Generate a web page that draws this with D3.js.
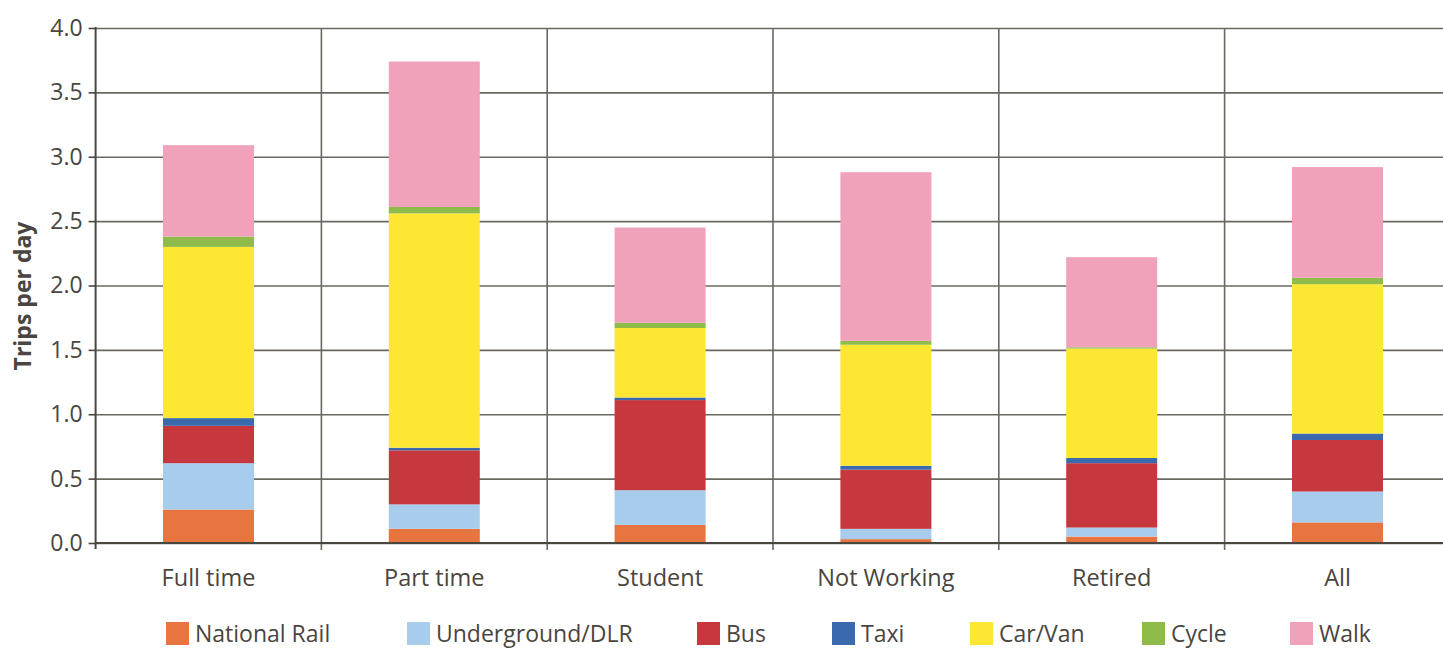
<!DOCTYPE html>
<html>
<head>
<meta charset="utf-8">
<script src="https://cdn.jsdelivr.net/npm/d3@7"></script>
<style>
  html, body { margin: 0; padding: 0; background: #fff; }
  svg { display: block; }
  text { font-family: "Open Sans", "Lato", sans-serif; fill: #4a4540; }
</style>
</head>
<body>
<svg id="chart" width="1443" height="648"></svg>
<script>
// Trips per day by working status, split by main mode
const categories = ["Full time", "Part time", "Student", "Not Working", "Retired", "All"];
const modes = ["National Rail", "Underground/DLR", "Bus", "Taxi", "Car/Van", "Cycle", "Walk"];

const nationalRail = [0.26, 0.11, 0.14, 0.03, 0.05, 0.16];
const underground  = [0.36, 0.19, 0.27, 0.08, 0.07, 0.24];
const bus          = [0.29, 0.42, 0.70, 0.46, 0.50, 0.40];
const taxi         = [0.06, 0.02, 0.02, 0.03, 0.04, 0.05];
const carVan       = [1.33, 1.82, 0.54, 0.94, 0.85, 1.16];
const cycle        = [0.08, 0.05, 0.04, 0.03, 0.01, 0.05];
const walk         = [0.71, 1.13, 0.74, 1.31, 0.70, 0.86];

const yTicks = [0, 0.5, 1.0, 1.5, 2.0, 2.5, 3.0, 3.5, 4.0];

const seriesValues = [nationalRail, underground, bus, taxi, carVan, cycle, walk];
const colors = ["#e8743f", "#a8cdec", "#c6373e", "#3a6aad", "#fde733", "#8fbb4a", "#f0a2bb"];

// Rows for d3.stack
const rows = categories.map((c, i) => {
  const r = { category: c };
  modes.forEach((m, j) => { r[m] = seriesValues[j][i]; });
  return r;
});

const svg = d3.select("#chart");
const W = 1443;
const plotLeft = 95.6, plotTop = 28, plotBottom = 543;
const bandRight = 1450.4;

const x = d3.scaleBand().domain(categories).range([plotLeft, bandRight]).padding(0);
const y = d3.scaleLinear().domain([0, 4]).range([plotBottom, plotTop]);
const barW = x.bandwidth() * 0.403;

const axisColor = "#4a4740";
const gridColor = "#6b6862";

// Horizontal gridlines
svg.append("g")
  .attr("transform", `translate(${plotLeft},0)`)
  .call(d3.axisLeft(y).tickValues(yTicks).tickSize(-(W - plotLeft)).tickFormat(""))
  .call(g => g.select(".domain").remove())
  .call(g => g.selectAll("line").attr("stroke", gridColor).attr("stroke-width", 1.6));

// Vertical separators between categories
svg.append("g").selectAll("line")
  .data(categories.slice(1))
  .join("line")
  .attr("x1", d => x(d)).attr("x2", d => x(d))
  .attr("y1", plotTop).attr("y2", plotBottom + 7)
  .attr("stroke", gridColor).attr("stroke-width", 1.6);

// Stacked bars
const stacked = d3.stack().keys(modes)(rows);
svg.append("g").selectAll("g")
  .data(stacked)
  .join("g")
  .attr("fill", (d, i) => colors[i])
  .selectAll("rect")
  .data(d => d)
  .join("rect")
  .attr("x", d => x(d.data.category) + (x.bandwidth() - barW) / 2)
  .attr("width", barW)
  .attr("y", d => y(d[1]))
  .attr("height", d => y(d[0]) - y(d[1]));

// Y axis with tick labels
const yAxis = svg.append("g")
  .attr("transform", `translate(${plotLeft},0)`)
  .call(d3.axisLeft(y).tickValues(yTicks).tickSize(7).tickPadding(6).tickFormat(d3.format(".1f")));
yAxis.select(".domain").remove();
yAxis.selectAll("line").attr("stroke", axisColor).attr("stroke-width", 1.6);
yAxis.selectAll("text").attr("font-size", 23).attr("fill", "#4a4540")
  .attr("font-family", "'Open Sans', sans-serif");

svg.append("line")
  .attr("x1", plotLeft).attr("x2", plotLeft)
  .attr("y1", plotTop - 1).attr("y2", plotBottom + 6)
  .attr("stroke", axisColor).attr("stroke-width", 2);

// X axis baseline and category labels
svg.append("line")
  .attr("x1", plotLeft).attr("x2", W)
  .attr("y1", plotBottom).attr("y2", plotBottom)
  .attr("stroke", axisColor).attr("stroke-width", 2);

svg.append("g").selectAll("text")
  .data(categories)
  .join("text")
  .attr("x", d => x(d) + x.bandwidth() / 2)
  .attr("y", 586)
  .attr("text-anchor", "middle")
  .attr("font-size", 23.5)
  .text(d => d);

// Y axis title
svg.append("text")
  .attr("transform", `translate(31,296) rotate(-90)`)
  .attr("text-anchor", "middle")
  .attr("font-size", 23)
  .attr("font-weight", 700)
  .text("Trips per day");

// Legend
const legendX = [166, 407, 697, 832, 970, 1142, 1290];
const legend = svg.append("g").selectAll("g")
  .data(modes)
  .join("g")
  .attr("transform", (d, i) => `translate(${legendX[i]},622)`);
legend.append("rect")
  .attr("width", 23).attr("height", 23)
  .attr("fill", (d, i) => colors[i]);
legend.append("text")
  .attr("x", 29).attr("y", 20)
  .attr("font-size", 23)
  .text(d => d);
</script>
</body>
</html>
